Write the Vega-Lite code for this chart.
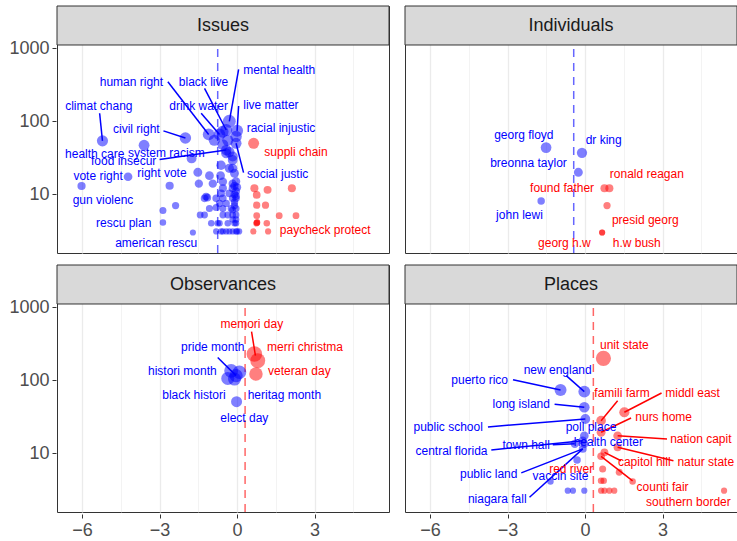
{
  "$schema": "https://vega.github.io/schema/vega-lite/v6.json",
  "background": "white",
  "padding": {"left": 8, "top": 4, "right": 1, "bottom": 2},
  "data": {"values": [
    {"panel":"Issues","k":"s"},{"panel":"Individuals","k":"s"},{"panel":"Observances","k":"s"},{"panel":"Places","k":"s"},
    {"panel":"Issues","k":"m","x":-0.75,"c":"n"},{"panel":"Individuals","k":"m","x":-0.44,"c":"n"},{"panel":"Observances","k":"m","x":0.31,"c":"r"},{"panel":"Places","k":"m","x":0.32,"c":"r"},

    {"panel":"Issues","k":"p","x":-5.21,"y":54,"c":"n"},{"panel":"Issues","k":"p","x":-2.0,"y":59,"c":"n"},{"panel":"Issues","k":"p","x":-3.6,"y":47,"c":"n"},{"panel":"Issues","k":"p","x":-1.76,"y":31,"c":"n"},{"panel":"Issues","k":"p","x":-0.42,"y":40.5,"c":"n"},{"panel":"Issues","k":"p","x":-4.22,"y":17.4,"c":"n"},{"panel":"Issues","k":"p","x":-6.02,"y":13,"c":"n"},{"panel":"Issues","k":"p","x":-2.61,"y":13.1,"c":"n"},{"panel":"Issues","k":"p","x":-2.87,"y":4.1,"c":"n"},{"panel":"Issues","k":"p","x":-1.71,"y":3.0,"c":"n"},{"panel":"Issues","k":"p","x":-1.1,"y":66,"c":"n"},{"panel":"Issues","k":"p","x":-0.42,"y":76,"c":"n"},{"panel":"Issues","k":"p","x":-0.68,"y":66,"c":"n"},{"panel":"Issues","k":"p","x":-0.30,"y":100,"c":"n"},{"panel":"Issues","k":"p","x":0.0,"y":74,"c":"n"},{"panel":"Issues","k":"p","x":-0.04,"y":62,"c":"n"},{"panel":"Issues","k":"p","x":-0.04,"y":50,"c":"n"},
    {"panel":"Issues","k":"p","x":-0.88,"y":55,"c":"n"},{"panel":"Issues","k":"p","x":-0.56,"y":72,"c":"n"},{"panel":"Issues","k":"p","x":-0.36,"y":55,"c":"n"},{"panel":"Issues","k":"p","x":-0.55,"y":48,"c":"n"},{"panel":"Issues","k":"p","x":-0.42,"y":36.5,"c":"n"},{"panel":"Issues","k":"p","x":-0.17,"y":29.5,"c":"n"},{"panel":"Issues","k":"p","x":-0.30,"y":38,"c":"n"},{"panel":"Issues","k":"p","x":-0.62,"y":25,"c":"n"},{"panel":"Issues","k":"p","x":-0.17,"y":22.7,"c":"n"},{"panel":"Issues","k":"p","x":-0.30,"y":22.7,"c":"n"},{"panel":"Issues","k":"p","x":-0.10,"y":19.4,"c":"n"},{"panel":"Issues","k":"p","x":-1.07,"y":18,"c":"n"},{"panel":"Issues","k":"p","x":-1.52,"y":20,"c":"n"},{"panel":"Issues","k":"p","x":-1.48,"y":14,"c":"n"},{"panel":"Issues","k":"p","x":-0.94,"y":14,"c":"n"},{"panel":"Issues","k":"p","x":-0.64,"y":18,"c":"n"},{"panel":"Issues","k":"p","x":-0.17,"y":33,"c":"n"},{"panel":"Issues","k":"p","x":-0.17,"y":14,"c":"n"},{"panel":"Issues","k":"p","x":-0.10,"y":13,"c":"n"},{"panel":"Issues","k":"p","x":-0.04,"y":15,"c":"n"},{"panel":"Issues","k":"p","x":-0.55,"y":14.9,"c":"n"},{"panel":"Issues","k":"p","x":-0.55,"y":12.1,"c":"n"},{"panel":"Issues","k":"p","x":-0.17,"y":12.1,"c":"n"},{"panel":"Issues","k":"p","x":0.0,"y":12.5,"c":"n"},{"panel":"Issues","k":"p","x":-0.3,"y":10.3,"c":"n"},{"panel":"Issues","k":"p","x":-0.1,"y":10,"c":"n"},{"panel":"Issues","k":"p","x":-0.62,"y":10.3,"c":"n"},{"panel":"Issues","k":"p","x":-0.81,"y":8.8,"c":"n"},{"panel":"Issues","k":"p","x":-0.55,"y":8.8,"c":"n"},{"panel":"Issues","k":"p","x":-0.17,"y":8.8,"c":"n"},{"panel":"Issues","k":"p","x":-0.04,"y":8.8,"c":"n"},{"panel":"Issues","k":"p","x":-1.26,"y":8.8,"c":"n"},{"panel":"Issues","k":"p","x":-1.2,"y":9.3,"c":"n"},{"panel":"Issues","k":"p","x":-1.15,"y":9.0,"c":"n"},{"panel":"Issues","k":"p","x":-1.07,"y":6.4,"c":"n"},{"panel":"Issues","k":"p","x":-0.81,"y":6.6,"c":"n"},{"panel":"Issues","k":"p","x":-0.55,"y":6.4,"c":"n"},{"panel":"Issues","k":"p","x":-0.23,"y":6.4,"c":"n"},{"panel":"Issues","k":"p","x":-0.04,"y":6.4,"c":"n"},{"panel":"Issues","k":"p","x":-0.42,"y":7.5,"c":"n"},{"panel":"Issues","k":"p","x":-0.68,"y":7.5,"c":"n"},{"panel":"Issues","k":"p","x":-0.1,"y":7.8,"c":"n"},{"panel":"Issues","k":"p","x":-0.17,"y":6.1,"c":"n"},{"panel":"Issues","k":"p","x":-1.26,"y":5.2,"c":"n"},{"panel":"Issues","k":"p","x":-1.43,"y":5.2,"c":"n"},{"panel":"Issues","k":"p","x":-0.55,"y":5.2,"c":"n"},{"panel":"Issues","k":"p","x":-0.17,"y":5.2,"c":"n"},{"panel":"Issues","k":"p","x":-0.04,"y":5.2,"c":"n"},{"panel":"Issues","k":"p","x":-0.36,"y":5.2,"c":"n"},{"panel":"Issues","k":"p","x":-1.0,"y":4.0,"c":"n"},{"panel":"Issues","k":"p","x":-0.68,"y":4.0,"c":"n"},{"panel":"Issues","k":"p","x":-0.36,"y":4.0,"c":"n"},{"panel":"Issues","k":"p","x":-0.1,"y":4.0,"c":"n"},{"panel":"Issues","k":"p","x":-0.04,"y":4.0,"c":"n"},{"panel":"Issues","k":"p","x":-0.55,"y":3.1,"c":"n"},{"panel":"Issues","k":"p","x":-0.3,"y":3.1,"c":"n"},{"panel":"Issues","k":"p","x":-0.04,"y":3.1,"c":"n"},{"panel":"Issues","k":"p","x":0.08,"y":3.1,"c":"n"},{"panel":"Issues","k":"p","x":-0.17,"y":3.1,"c":"n"},{"panel":"Issues","k":"p","x":-0.62,"y":3.1,"c":"n"},{"panel":"Issues","k":"p","x":-0.81,"y":3.1,"c":"n"},{"panel":"Issues","k":"p","x":-0.42,"y":3.1,"c":"n"},{"panel":"Issues","k":"p","x":-2.38,"y":7.0,"c":"n"},{"panel":"Issues","k":"p","x":-2.87,"y":6.0,"c":"n"},{"panel":"Issues","k":"p","x":-0.75,"y":4.0,"c":"n"},{"panel":"Issues","k":"p","x":-0.04,"y":11,"c":"n"},{"panel":"Issues","k":"p","x":-0.04,"y":9.5,"c":"n"},{"panel":"Issues","k":"p","x":-0.1,"y":7,"c":"n"},{"panel":"Issues","k":"p","x":-0.04,"y":4.5,"c":"n"},{"panel":"Issues","k":"p","x":-0.17,"y":4.5,"c":"n"},{"panel":"Issues","k":"p","x":0.0,"y":3.1,"c":"n"},
    {"panel":"Issues","k":"p","x":0.64,"y":50,"c":"r"},{"panel":"Issues","k":"p","x":0.77,"y":4.1,"c":"r"},{"panel":"Issues","k":"p","x":0.77,"y":4.1,"c":"r"},{"panel":"Issues","k":"p","x":0.75,"y":4.0,"c":"r"},{"panel":"Issues","k":"p","x":0.67,"y":12.1,"c":"r"},{"panel":"Issues","k":"p","x":1.18,"y":11.5,"c":"r"},{"panel":"Issues","k":"p","x":2.12,"y":12.1,"c":"r"},{"panel":"Issues","k":"p","x":0.76,"y":9.8,"c":"r"},{"panel":"Issues","k":"p","x":0.76,"y":7.1,"c":"r"},{"panel":"Issues","k":"p","x":1.1,"y":7.1,"c":"r"},{"panel":"Issues","k":"p","x":0.76,"y":5.1,"c":"r"},{"panel":"Issues","k":"p","x":1.63,"y":5.1,"c":"r"},{"panel":"Issues","k":"p","x":2.28,"y":5.1,"c":"r"},{"panel":"Issues","k":"p","x":1.15,"y":4.0,"c":"r"},{"panel":"Issues","k":"p","x":0.63,"y":3.1,"c":"r"},{"panel":"Issues","k":"p","x":1.2,"y":3.1,"c":"r"},

    {"panel":"Individuals","k":"p","x":-1.51,"y":43.6,"c":"n"},{"panel":"Individuals","k":"p","x":-0.12,"y":37,"c":"n"},{"panel":"Individuals","k":"p","x":-0.26,"y":20,"c":"n"},{"panel":"Individuals","k":"p","x":-1.70,"y":8.1,"c":"n"},
    {"panel":"Individuals","k":"p","x":0.94,"y":12.1,"c":"r"},{"panel":"Individuals","k":"p","x":0.75,"y":12.1,"c":"r"},{"panel":"Individuals","k":"p","x":0.85,"y":7.0,"c":"r"},{"panel":"Individuals","k":"p","x":0.66,"y":3.0,"c":"r"},{"panel":"Individuals","k":"p","x":0.66,"y":3.0,"c":"r"},

    {"panel":"Observances","k":"p","x":-0.36,"y":106,"c":"n"},{"panel":"Observances","k":"p","x":-0.04,"y":116,"c":"n"},{"panel":"Observances","k":"p","x":-0.23,"y":135,"c":"n"},{"panel":"Observances","k":"p","x":0.09,"y":129,"c":"n"},{"panel":"Observances","k":"p","x":-0.1,"y":104,"c":"n"},{"panel":"Observances","k":"p","x":-0.02,"y":51,"c":"n"},
    {"panel":"Observances","k":"p","x":0.67,"y":229,"c":"r"},{"panel":"Observances","k":"p","x":0.80,"y":186,"c":"r"},{"panel":"Observances","k":"p","x":0.73,"y":122,"c":"r"},

    {"panel":"Places","k":"p","x":-0.95,"y":73.6,"c":"n"},{"panel":"Places","k":"p","x":-0.03,"y":70,"c":"n"},{"panel":"Places","k":"p","x":-0.03,"y":42.7,"c":"n"},{"panel":"Places","k":"p","x":0.01,"y":29.5,"c":"n"},{"panel":"Places","k":"p","x":-0.03,"y":17.4,"c":"n"},{"panel":"Places","k":"p","x":-0.09,"y":14.9,"c":"n"},{"panel":"Places","k":"p","x":-0.4,"y":13.5,"c":"n"},{"panel":"Places","k":"p","x":-0.03,"y":13.5,"c":"n"},{"panel":"Places","k":"p","x":-0.09,"y":11.5,"c":"n"},{"panel":"Places","k":"p","x":-0.31,"y":8.1,"c":"n"},{"panel":"Places","k":"p","x":-1.34,"y":4.1,"c":"n"},{"panel":"Places","k":"p","x":-0.67,"y":3.08,"c":"n"},{"panel":"Places","k":"p","x":-0.47,"y":3.08,"c":"n"},{"panel":"Places","k":"p","x":-0.03,"y":3.08,"c":"n"},
    {"panel":"Places","k":"p","x":0.71,"y":200,"c":"r"},{"panel":"Places","k":"p","x":0.62,"y":28,"c":"r"},{"panel":"Places","k":"p","x":1.52,"y":36.5,"c":"r"},{"panel":"Places","k":"p","x":0.62,"y":19.4,"c":"r"},{"panel":"Places","k":"p","x":1.26,"y":17.4,"c":"r"},{"panel":"Places","k":"p","x":1.26,"y":12.1,"c":"r"},{"panel":"Places","k":"p","x":0.75,"y":10.3,"c":"r"},{"panel":"Places","k":"p","x":0.62,"y":9.1,"c":"r"},{"panel":"Places","k":"p","x":0.68,"y":6.1,"c":"r"},{"panel":"Places","k":"p","x":1.32,"y":5.5,"c":"r"},{"panel":"Places","k":"p","x":0.62,"y":4.2,"c":"r"},{"panel":"Places","k":"p","x":0.72,"y":4.2,"c":"r"},{"panel":"Places","k":"p","x":1.84,"y":4.1,"c":"r"},{"panel":"Places","k":"p","x":0.62,"y":3.08,"c":"r"},{"panel":"Places","k":"p","x":0.75,"y":3.08,"c":"r"},{"panel":"Places","k":"p","x":0.94,"y":3.08,"c":"r"},{"panel":"Places","k":"p","x":1.13,"y":3.08,"c":"r"},{"panel":"Places","k":"p","x":5.38,"y":3.08,"c":"r"},

    {"panel":"Issues","k":"l","t":"climat chang","lx":-5.35,"ly":162,"c":"n","x":-5.21,"y":54,"sx":-5.32,"sy":129},
    {"panel":"Issues","k":"l","t":"civil right","lx":-3.9,"ly":78,"c":"n","x":-2.0,"y":59,"sx":-2.85,"sy":74},
    {"panel":"Issues","k":"l","t":"human right","lx":-4.09,"ly":348,"c":"n","x":-1.1,"y":66,"sx":-2.68,"sy":348},
    {"panel":"Issues","k":"l","t":"black live","lx":-1.30,"ly":348,"c":"n","x":-0.42,"y":76,"sx":-1.26,"sy":283},
    {"panel":"Issues","k":"l","t":"drink water","lx":-1.49,"ly":162,"c":"n","x":-0.68,"y":66,"sx":-1.39,"sy":129},
    {"panel":"Issues","k":"l","t":"mental health","lx":1.63,"ly":505,"c":"n","x":-0.30,"y":100,"sx":0.06,"sy":515},
    {"panel":"Issues","k":"l","t":"live matter","lx":1.31,"ly":167,"c":"n","x":0.0,"y":74,"sx":0.06,"sy":162},
    {"panel":"Issues","k":"l","t":"racial injustic","lx":1.70,"ly":82,"c":"n","x":-0.04,"y":62},
    {"panel":"Issues","k":"l","t":"suppli chain","lx":2.28,"ly":37.6,"c":"r","x":0.64,"y":50},
    {"panel":"Issues","k":"l","t":"social justic","lx":1.57,"ly":18.8,"c":"n","x":-0.04,"y":50,"sx":0.25,"sy":19.8},
    {"panel":"Issues","k":"l","t":"health care","lx":-5.51,"ly":35.3,"c":"n","x":-3.6,"y":47},
    {"panel":"Issues","k":"l","t":"system racism","lx":-2.74,"ly":36.5,"c":"n","x":-1.76,"y":31},
    {"panel":"Issues","k":"l","t":"food insecur","lx":-4.39,"ly":28.8,"c":"n","x":-0.42,"y":40.5,"sx":-3.0,"sy":30},
    {"panel":"Issues","k":"l","t":"vote right","lx":-5.38,"ly":18,"c":"n","x":-4.22,"y":17.4},
    {"panel":"Issues","k":"l","t":"right vote","lx":-2.91,"ly":19.6,"c":"n","x":-2.61,"y":13.1},
    {"panel":"Issues","k":"l","t":"gun violenc","lx":-5.19,"ly":8.4,"c":"n","x":-6.02,"y":13},
    {"panel":"Issues","k":"l","t":"rescu plan","lx":-4.39,"ly":4.08,"c":"n","x":-2.87,"y":4.1},
    {"panel":"Issues","k":"l","t":"american rescu","lx":-3.13,"ly":2.13,"c":"n","x":-1.71,"y":3.0},
    {"panel":"Issues","k":"l","t":"paycheck protect","lx":3.41,"ly":3.24,"c":"r","x":0.77,"y":4.1},

    {"panel":"Individuals","k":"l","t":"georg floyd","lx":-2.37,"ly":65,"c":"n","x":-1.51,"y":43.6},
    {"panel":"Individuals","k":"l","t":"dr king","lx":0.72,"ly":55,"c":"n","x":-0.12,"y":37},
    {"panel":"Individuals","k":"l","t":"breonna taylor","lx":-2.19,"ly":27,"c":"n","x":-0.26,"y":20},
    {"panel":"Individuals","k":"l","t":"john lewi","lx":-2.54,"ly":5.2,"c":"n","x":-1.70,"y":8.1},
    {"panel":"Individuals","k":"l","t":"found father","lx":-0.89,"ly":12.3,"c":"r","x":0.75,"y":12.1},
    {"panel":"Individuals","k":"l","t":"ronald reagan","lx":2.39,"ly":18.8,"c":"r","x":0.94,"y":12.1},
    {"panel":"Individuals","k":"l","t":"presid georg","lx":2.33,"ly":4.45,"c":"r","x":0.85,"y":7.0},
    {"panel":"Individuals","k":"l","t":"georg h.w","lx":-0.8,"ly":2.13,"c":"r","x":0.66,"y":3.0},
    {"panel":"Individuals","k":"l","t":"h.w bush","lx":2.0,"ly":2.18,"c":"r","x":0.66,"y":3.0},

    {"panel":"Observances","k":"l","t":"pride month","lx":-0.94,"ly":283,"c":"n","x":-0.04,"y":116,"sx":-0.75,"sy":205},
    {"panel":"Observances","k":"l","t":"histori month","lx":-2.12,"ly":136,"c":"n","x":-0.36,"y":106},
    {"panel":"Observances","k":"l","t":"black histori","lx":-1.67,"ly":63,"c":"n","x":-0.1,"y":104},
    {"panel":"Observances","k":"l","t":"heritag month","lx":1.83,"ly":63,"c":"n","x":0.09,"y":129},
    {"panel":"Observances","k":"l","t":"elect day","lx":0.28,"ly":30,"c":"n","x":-0.02,"y":51},
    {"panel":"Observances","k":"l","t":"memori day","lx":0.57,"ly":590,"c":"r","x":0.71,"y":217,"sx":0.56,"sy":463},
    {"panel":"Observances","k":"l","t":"merri christma","lx":2.63,"ly":283,"c":"r","x":0.80,"y":186},
    {"panel":"Observances","k":"l","t":"veteran day","lx":2.41,"ly":133,"c":"r","x":0.73,"y":122},

    {"panel":"Places","k":"l","t":"unit state","lx":1.52,"ly":304,"c":"r","x":0.71,"y":200},
    {"panel":"Places","k":"l","t":"new england","lx":-1.06,"ly":140,"c":"n","x":-0.03,"y":70,"sx":-0.73,"sy":116},
    {"panel":"Places","k":"l","t":"puerto rico","lx":-4.08,"ly":101,"c":"n","x":-0.95,"y":73.6,"sx":-2.79,"sy":102},
    {"panel":"Places","k":"l","t":"famili farm","lx":1.43,"ly":67,"c":"r","x":0.62,"y":28,"sx":1.26,"sy":52.6},
    {"panel":"Places","k":"l","t":"middl east","lx":4.16,"ly":67,"c":"r","x":1.52,"y":36.5,"sx":2.96,"sy":67},
    {"panel":"Places","k":"l","t":"long island","lx":-2.47,"ly":47,"c":"n","x":-0.03,"y":42.7,"sx":-1.18,"sy":47},
    {"panel":"Places","k":"l","t":"nurs home","lx":3.04,"ly":31.8,"c":"r","x":0.62,"y":19.4,"sx":1.78,"sy":30.4},
    {"panel":"Places","k":"l","t":"public school","lx":-5.3,"ly":23,"c":"n","x":0.01,"y":29.5,"sx":-3.76,"sy":23},
    {"panel":"Places","k":"l","t":"poll place","lx":0.23,"ly":22.7,"c":"n","x":-0.03,"y":17.4},
    {"panel":"Places","k":"l","t":"nation capit","lx":4.48,"ly":15.7,"c":"r","x":1.26,"y":17.4,"sx":3.17,"sy":15.7},
    {"panel":"Places","k":"l","t":"health center","lx":0.9,"ly":14.4,"c":"n","x":-0.03,"y":13.5},
    {"panel":"Places","k":"l","t":"town hall","lx":-2.28,"ly":13.1,"c":"n","x":-0.4,"y":13.5,"sx":-1.25,"sy":13.1},
    {"panel":"Places","k":"l","t":"central florida","lx":-5.17,"ly":10.6,"c":"n","x":-0.09,"y":14.9,"sx":-3.63,"sy":11.1},
    {"panel":"Places","k":"l","t":"capitol hill","lx":2.29,"ly":7.7,"c":"r","x":0.75,"y":10.3,"sx":1.39,"sy":7.9},
    {"panel":"Places","k":"l","t":"natur state","lx":4.67,"ly":7.7,"c":"r","x":1.26,"y":12.1,"sx":3.42,"sy":7.9},
    {"panel":"Places","k":"l","t":"red river","lx":-0.54,"ly":6.1,"c":"r","x":0.68,"y":6.1},
    {"panel":"Places","k":"l","t":"public land","lx":-3.73,"ly":5.2,"c":"n","x":-0.09,"y":11.5,"sx":-2.47,"sy":5.4},
    {"panel":"Places","k":"l","t":"vaccin site","lx":-0.95,"ly":4.83,"c":"n","x":-1.34,"y":4.1},
    {"panel":"Places","k":"l","t":"counti fair","lx":3.0,"ly":3.5,"c":"r","x":0.62,"y":9.1,"sx":1.84,"sy":4.2},
    {"panel":"Places","k":"l","t":"niagara fall","lx":-3.4,"ly":2.4,"c":"n","x":-0.09,"y":11.5,"sx":-2.15,"sy":2.5},
    {"panel":"Places","k":"l","t":"southern border","lx":4.0,"ly":2.17,"c":"r","x":5.38,"y":3.08}
  ]},
  "facet": {"field": "panel", "type": "nominal", "sort": ["Issues", "Individuals", "Observances", "Places"], "title": null, "header": {"title": null, "labelExpr": "''", "labelFontSize": 1, "labelPadding": 0, "labelLimit": 1}},
  "columns": 2,
  "spacing": {"row": 8, "column": 14},
  "spec": {
    "width": 332,
    "height": 247,
    "layer": [
      {
        "transform": [{"filter": "datum.k === 's'"}],
        "mark": {"type": "rect", "fill": "#D9D9D9", "stroke": "#333333", "strokeWidth": 1},
        "encoding": {
          "y": {"datum": 1110, "type": "quantitative", "scale": {"type": "log", "domain": [1.57, 3797], "nice": false},
            "axis": {"title": null, "values": [3.1623, 10, 31.623, 100, 316.23, 1000],
              "labelExpr": "(datum.value === 10 || datum.value === 100 || datum.value === 1000) ? format(datum.value, 'd') : ''",
              "gridWidth": {"condition": {"test": "datum.value === 10 || datum.value === 100 || datum.value === 1000", "value": 1.3}, "value": 0.6},
              "tickOpacity": {"condition": {"test": "datum.value === 10 || datum.value === 100 || datum.value === 1000", "value": 1}, "value": 0}}},
          "y2": {"datum": 3797}
        }
      },
      {
        "transform": [{"filter": "datum.k === 's'"}],
        "mark": {"type": "text", "fontSize": 18, "color": "#1A1A1A", "baseline": "middle", "align": "center"},
        "encoding": {
          "y": {"datum": 2051, "type": "quantitative", "scale": {"type": "log", "domain": [1.57, 3797], "nice": false}},
          "text": {"field": "panel", "type": "nominal"}
        }
      },
      {
        "transform": [{"filter": "datum.k === 'm'"}],
        "mark": {"type": "rule", "strokeDash": [8, 6], "strokeWidth": 1.5, "opacity": 0.6},
        "encoding": {
          "x": {"field": "x", "type": "quantitative", "scale": {"domain": [-6.97, 5.88], "nice": false, "zero": false},
            "axis": {"title": null, "values": [-6, -4.5, -3, -1.5, 0, 1.5, 3, 4.5],
              "labelExpr": "datum.value % 3 === 0 ? replace(format(datum.value, 'd'), '-', '\u2212') : ''",
              "gridWidth": {"condition": {"test": "datum.value % 3 === 0", "value": 1.3}, "value": 0.6},
              "tickOpacity": {"condition": {"test": "datum.value % 3 === 0", "value": 1}, "value": 0}}},
          "y": {"datum": 1.57, "type": "quantitative", "scale": {"type": "log", "domain": [1.57, 3797], "nice": false}},
          "y2": {"datum": 1110},
          "color": {"field": "c", "type": "nominal", "scale": {"domain": ["n", "r"], "range": ["#0000FF", "#FF0000"]}, "legend": null}
        }
      },
      {
        "transform": [{"filter": "datum.k === 'p'"}],
        "mark": {"type": "circle", "opacity": 0.5},
        "encoding": {
          "x": {"field": "x", "type": "quantitative", "scale": {"domain": [-6.97, 5.88], "nice": false, "zero": false}},
          "y": {"field": "y", "type": "quantitative", "scale": {"type": "log", "domain": [1.57, 3797], "nice": false}},
          "size": {"field": "y", "type": "quantitative", "scale": {"type": "sqrt", "domain": [3, 200], "range": [38, 230], "zero": false}, "legend": null},
          "color": {"field": "c", "type": "nominal", "scale": {"domain": ["n", "r"], "range": ["#0000FF", "#FF0000"]}, "legend": null}
        }
      },
      {
        "transform": [{"filter": "datum.k === 'l' && isValid(datum.sx)"}],
        "mark": {"type": "rule", "strokeWidth": 1.5},
        "encoding": {
          "x": {"field": "x", "type": "quantitative", "scale": {"domain": [-6.97, 5.88], "nice": false, "zero": false}},
          "y": {"field": "y", "type": "quantitative", "scale": {"type": "log", "domain": [1.57, 3797], "nice": false}},
          "x2": {"field": "sx"},
          "y2": {"field": "sy"},
          "color": {"field": "c", "type": "nominal", "scale": {"domain": ["n", "r"], "range": ["#0000FF", "#FF0000"]}, "legend": null}
        }
      },
      {
        "transform": [{"filter": "datum.k === 'l'"}],
        "mark": {"type": "text", "fontSize": 12, "baseline": "middle", "align": "center"},
        "encoding": {
          "x": {"field": "lx", "type": "quantitative", "scale": {"domain": [-6.97, 5.88], "nice": false, "zero": false}},
          "y": {"field": "ly", "type": "quantitative", "scale": {"type": "log", "domain": [1.57, 3797], "nice": false}},
          "text": {"field": "t", "type": "nominal"},
          "color": {"field": "c", "type": "nominal", "scale": {"domain": ["n", "r"], "range": ["#0000FF", "#FF0000"]}, "legend": null}
        }
      }
    ]
  },
  "config": {
    "font": "Liberation Sans",
    "view": {"stroke": "#333333", "strokeWidth": 1},
    "axis": {"domain": false, "gridColor": "#EBEBEB", "labelColor": "#4D4D4D", "labelFontSize": 18, "tickColor": "#333333", "tickSize": 4, "labelPadding": 3}
  }
}
